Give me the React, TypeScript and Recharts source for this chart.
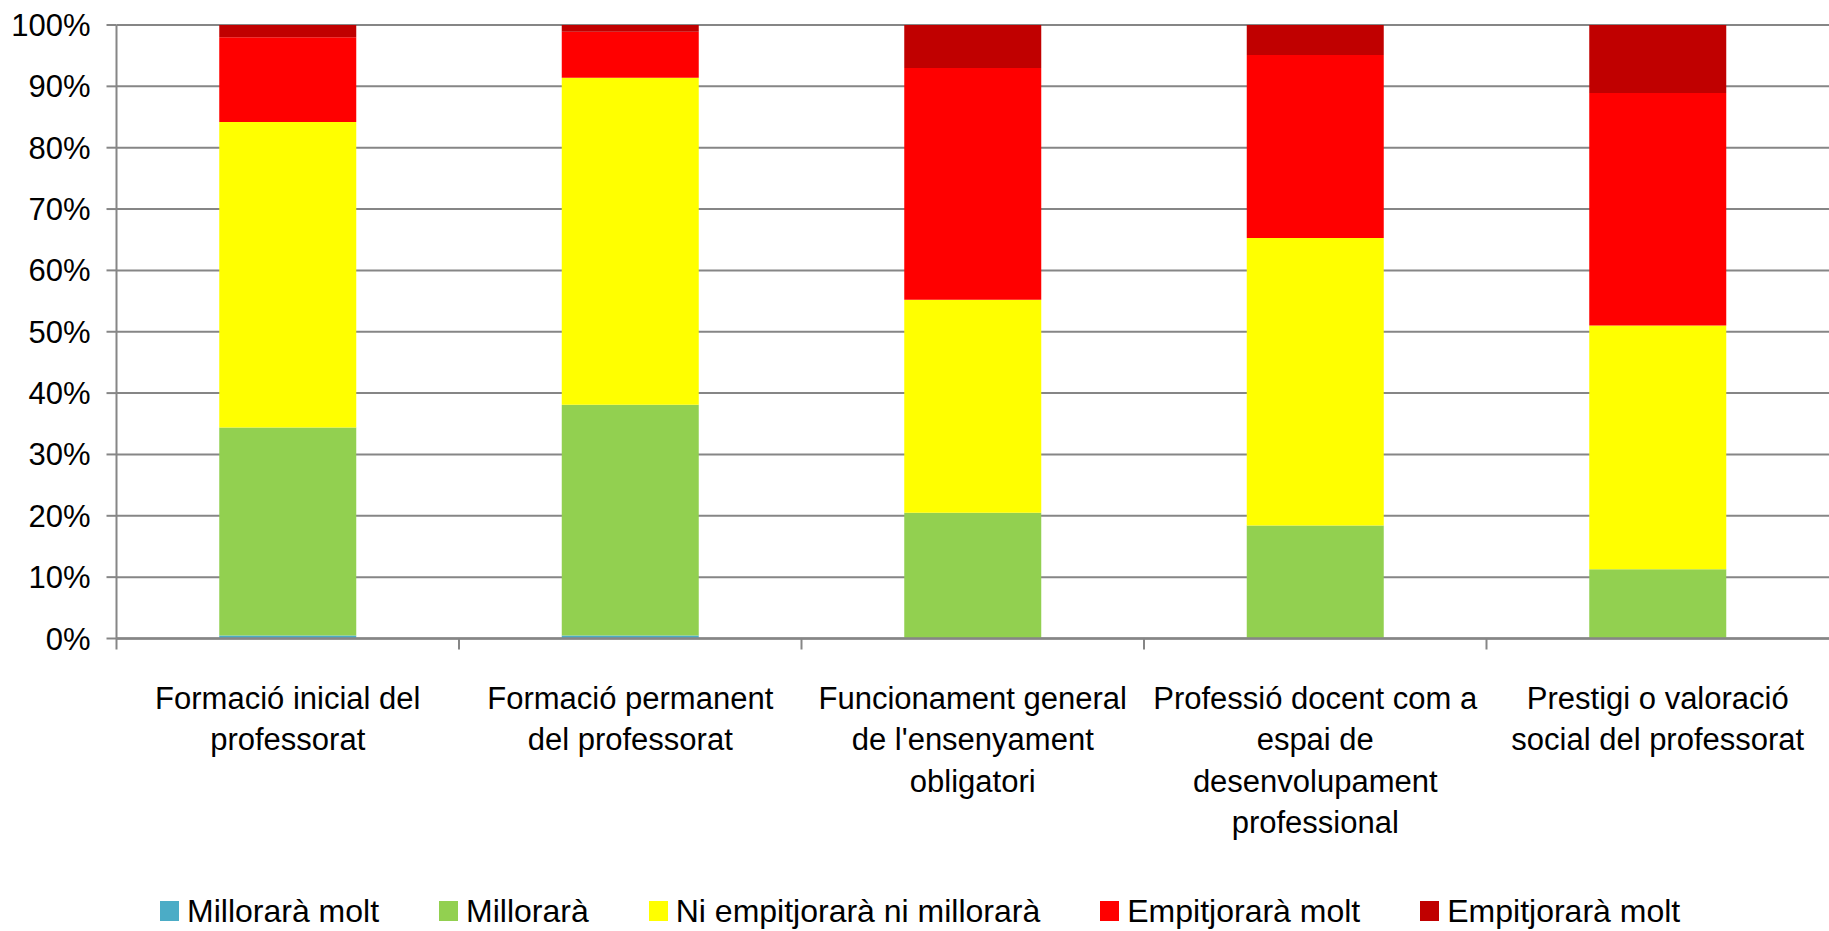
import { Bar, BarChart, CartesianGrid, Legend, XAxis, YAxis } from 'recharts';

const categories = [
  'Formació inicial del\nprofessorat',
  'Formació permanent\ndel professorat',
  "Funcionament general\nde l'ensenyament\nobligatori",
  'Professió docent com a\nespai de\ndesenvolupament\nprofessional',
  'Prestigi o valoració\nsocial del professorat',
];

const milloraraMolt = [0.5, 0.5, 0, 0, 0];
const millorara = [33.9, 37.6, 20.5, 18.4, 11.3];
const niNi = [49.8, 53.3, 34.7, 46.9, 39.7];
const empitjoraraMolt = [13.8, 7.5, 37.8, 29.8, 37.9];
const empitjoraraMolt2 = [2.0, 1.1, 7.0, 4.9, 11.1];

const yTicks = [0, 10, 20, 30, 40, 50, 60, 70, 80, 90, 100];

const series = [
  { key: 'mm', name: 'Millorarà molt', color: '#4BACC6' },
  { key: 'm', name: 'Millorarà', color: '#92D050' },
  { key: 'ni', name: 'Ni empitjorarà ni millorarà', color: '#FFFF00' },
  { key: 'em', name: 'Empitjorarà molt', color: '#FF0000' },
  { key: 'em2', name: 'Empitjorarà molt', color: '#C00000' },
];

const data = categories.map((c, i) => ({
  cat: c,
  mm: milloraraMolt[i],
  m: millorara[i],
  ni: niNi[i],
  em: empitjoraraMolt[i],
  em2: empitjoraraMolt2[i],
}));

const FONT = '"Liberation Sans", Arial, sans-serif';
const AXIS = '#868686';
const W = 1829;
const H = 931;
const CAT_W = (W - 116.5) / categories.length;

function CatTick(props: any) {
  const { x, y, payload } = props;
  const lines = String(payload.value).split('\n');
  const bx = x - CAT_W / 2;
  return (
    <g>
      <line x1={bx} y1={y} x2={bx} y2={y + 11} stroke={AXIS} strokeWidth={2} />
      <text x={x} y={y + 70} textAnchor="middle" fontSize={31} fill="#000" fontFamily={FONT}>
        {lines.map((l, i) => (
          <tspan key={i} x={x} dy={i === 0 ? 0 : 41.5}>
            {l}
          </tspan>
        ))}
      </text>
    </g>
  );
}

function LegendBox() {
  return (
    <div style={{ display: 'flex', alignItems: 'center', paddingLeft: 160, height: 40, fontFamily: FONT, fontSize: 32 }}>
      {series.map((s, i) => (
        <div key={i} style={{ display: 'flex', alignItems: 'center', marginRight: 60 }}>
          <span style={{ display: 'inline-block', width: 19, height: 20, background: s.color, marginRight: 8 }} />
          <span style={{ color: '#000', whiteSpace: 'nowrap' }}>{s.name}</span>
        </div>
      ))}
    </div>
  );
}

export default function App() {
  return (
    <div style={{ position: 'absolute', left: 0, top: 0, width: W, height: H, background: '#fff' }}>
      <BarChart
        width={W}
        height={H}
        data={data}
        margin={{ top: 25, right: 0, left: 0, bottom: 0 }}
        barCategoryGap="30%"
      >
        <CartesianGrid vertical={false} stroke={AXIS} strokeWidth={2} />
        <XAxis
          dataKey="cat"
          height={252.5}
          interval={0}
          tickLine={false}
          tickSize={0}
          tickMargin={0}
          axisLine={{ stroke: AXIS, strokeWidth: 2.5 }}
          tick={<CatTick />}
        />
        <YAxis
          width={116.5}
          domain={[0, 100]}
          ticks={yTicks}
          tickFormatter={(v) => `${v}%`}
          tickSize={10}
          tickMargin={16}
          tickLine={{ stroke: AXIS, strokeWidth: 2 }}
          axisLine={{ stroke: AXIS, strokeWidth: 2 }}
          tick={{ fill: '#000', fontSize: 31, fontFamily: FONT }}
        />
        <Legend verticalAlign="bottom" content={<LegendBox />} wrapperStyle={{ height: 40 }} />
        {series.map((s) => (
          <Bar key={s.key} dataKey={s.key} name={s.name} stackId="a" fill={s.color} isAnimationActive={false} />
        ))}
      </BarChart>
    </div>
  );
}
